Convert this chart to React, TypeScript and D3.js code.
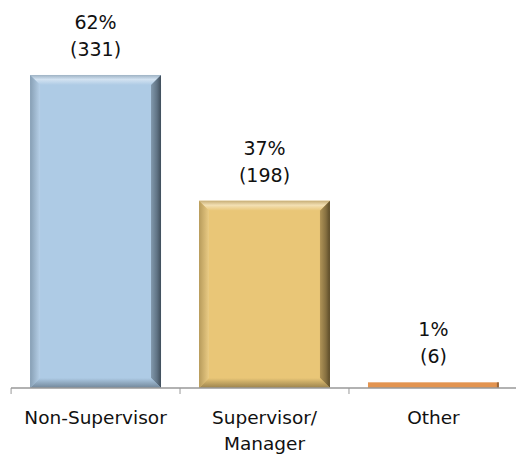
import React from "react";
import * as d3 from "d3";

const categories = ["Non-Supervisor", "Supervisor/\nManager", "Other"];
const counts = [331, 198, 6];
const percents = ["62%", "37%", "1%"];
const baseColors = ["#aecbe5", "#e9c677", "#e39450"];
const darkColors = ["#3f4d5a", "#5a4a28", "#6b4a2a"];

const W = 516;
const H = 455;
const FONT = "'Century Gothic', 'DejaVu Sans', sans-serif";

export default function App() {
  const x = d3.scaleBand<number>().domain(d3.range(categories.length)).range([11, 518]).paddingInner(0.225).paddingOuter(0.113);
  const bandStep = x.step();
  const y = d3.scaleLinear().domain([0, 350]).range([388, 57]);
  const tickXs = d3.range(categories.length).map((i) => (x(i) as number) - (bandStep - x.bandwidth()) / 2);

  return (
    <svg width={W} height={H} style={{ position: "absolute", left: 0, top: 0 }} fontFamily={FONT}>
      <defs>
        {baseColors.map((c, i) => {
          const base = d3.color(c)!;
          const light = d3.interpolateRgb(c, "#ffffff")(0.45);
          const dark = darkColors[i];
          const mid = d3.interpolateRgb(c, dark)(0.4);
          return (
            <React.Fragment key={i}>
              <linearGradient id={`top${i}`} x1="0" y1="0" x2="0" y2="1">
                <stop offset="0" stopColor={d3.interpolateRgb(c, "#777")(0.3)} />
                <stop offset="0.45" stopColor={light} />
                <stop offset="1" stopColor={base.formatHex()} />
              </linearGradient>
              <linearGradient id={`left${i}`} x1="0" y1="0" x2="1" y2="0">
                <stop offset="0" stopColor={d3.interpolateRgb(c, dark)(0.35)} />
                <stop offset="1" stopColor={d3.interpolateRgb(c, "#fff")(0.1)} />
              </linearGradient>
              <linearGradient id={`right${i}`} x1="0" y1="0" x2="1" y2="0">
                <stop offset="0" stopColor={mid} />
                <stop offset="0.6" stopColor={d3.interpolateRgb(c, dark)(0.7)} />
                <stop offset="1" stopColor={dark} />
              </linearGradient>
              <linearGradient id={`bot${i}`} x1="0" y1="0" x2="0" y2="1">
                <stop offset="0" stopColor={base.formatHex()} />
                <stop offset="1" stopColor={d3.interpolateRgb(c, dark)(0.55)} />
              </linearGradient>
            </React.Fragment>
          );
        })}
      </defs>

      {counts.map((v, i) => {
        const x0 = x(i) as number;
        const w = x.bandwidth();
        const y0 = y(v);
        const h = y(0) - y0;
        const b = Math.min(10, h / 2, w / 2);
        const x1 = x0 + w;
        const y1 = y0 + h;
        const pts = (arr: number[][]) => arr.map((p) => p.join(",")).join(" ");
        return (
          <g key={i}>
            <rect x={x0} y={y0} width={w} height={h} fill={baseColors[i]} />
            {h > 8 ? (
              <>
                <polygon points={pts([[x0, y0], [x1, y0], [x1 - b, y0 + b], [x0 + b, y0 + b]])} fill={`url(#top${i})`} />
                <polygon points={pts([[x0, y0], [x0 + b, y0 + b], [x0 + b, y1 - b], [x0, y1]])} fill={`url(#left${i})`} />
                <polygon points={pts([[x1, y0], [x1, y1], [x1 - b, y1 - b], [x1 - b, y0 + b]])} fill={`url(#right${i})`} />
                <polygon points={pts([[x0, y1], [x0 + b, y1 - b], [x1 - b, y1 - b], [x1, y1]])} fill={`url(#bot${i})`} />
              </>
            ) : (
              <rect x={x1 - 2} y={y0} width={2} height={h} fill={darkColors[i]} opacity={0.6} />
            )}
            <text x={x0 + w / 2} y={y0 - 46} textAnchor="middle" fontSize={19} fill="#111">{percents[i]}</text>
            <text x={x0 + w / 2} y={y0 - 19} textAnchor="middle" fontSize={19} fill="#111">({v})</text>
          </g>
        );
      })}

      <line x1={11} x2={516} y1={388} y2={388} stroke="#999" strokeWidth={1.5} />
      {tickXs.map((tx, i) => (
        <line key={i} x1={tx} x2={tx} y1={388} y2={394} stroke="#999" strokeWidth={1} />
      ))}

      {categories.map((c, i) => {
        const cx = (x(i) as number) + x.bandwidth() / 2;
        return (
          <text key={i} x={cx} y={424} textAnchor="middle" fontSize={18.5} fill="#111">
            {c.split("\n").map((line, j) => (
              <tspan key={j} x={cx} dy={j === 0 ? 0 : 26}>{line}</tspan>
            ))}
          </text>
        );
      })}
    </svg>
  );
}
